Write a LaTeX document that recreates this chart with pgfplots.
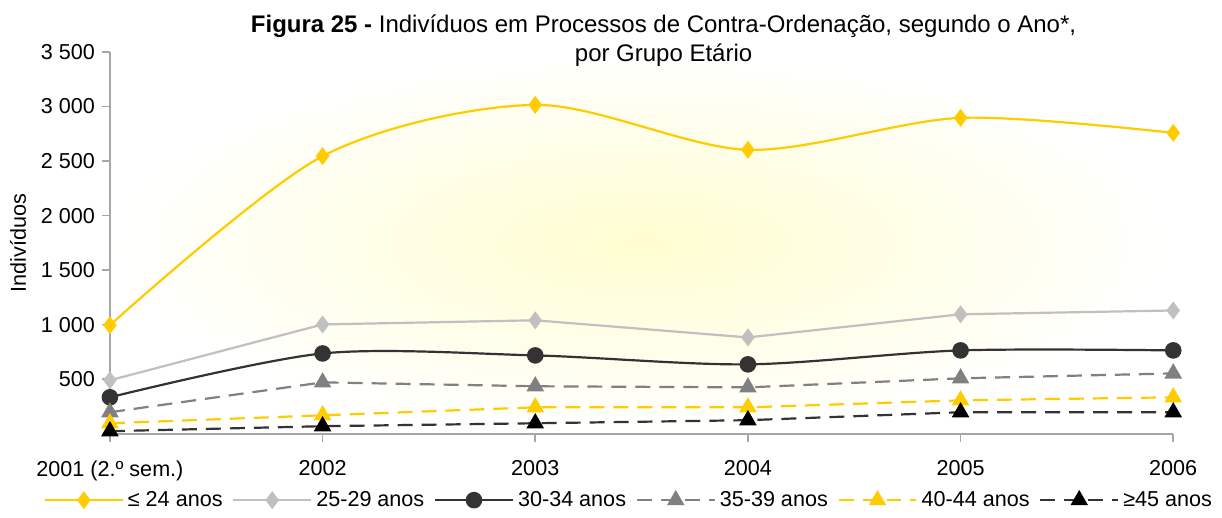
\documentclass[border=0pt]{standalone}
\usepackage{pgfplots}
\pgfplotsset{compat=1.18}
\usepackage{fontspec}
\setmainfont{Liberation Sans}
\definecolor{cyel}{HTML}{FFCC00}
\definecolor{clg}{HTML}{C0C0C0}
\definecolor{cdk}{HTML}{333333}
\definecolor{cmg}{HTML}{808080}
\definecolor{cax}{HTML}{A6A6A6}
\definecolor{bgc}{HTML}{FFFDCF}
\begin{document}
\begin{tikzpicture}
\path (-55pt,-39.5pt) rectangle (556pt,217pt);
\begin{axis}[
  scale only axis, width=532pt, height=191pt,
  xmin=0, xmax=5, ymin=0, ymax=3500,
  axis lines*=left,
  axis line style={cax, line width=0.8pt},
  axis background/.style={shade, shading=radial, inner color=bgc, middle color=bgc!60!white, outer color=white},
  xtick={0,1,2,3,4,5},
  xticklabels={2001 (2.º sem.),2002,2003,2004,2005,2006},
  ytick={500,1000,1500,2000,2500,3000,3500},
  tick style={cax, line width=0.8pt},
  tick align=outside,
  major tick length=4pt,
  xticklabel style={yshift=-6pt},
  font=\fontsize{10.8}{13}\selectfont,
  /pgf/number format/.cd, 1000 sep={\ }, assume math mode=true,
  /pgfplots/.cd,
  ylabel={Indivíduos},
  ylabel style={at={(axis description cs:-0.0865,0.5)}, anchor=center},
  legend columns=6,
  legend style={draw=none, fill=none, at={(0.489,-0.174)}, anchor=center,
    font=\fontsize{10.8}{13}\selectfont,
    /tikz/every even column/.append style={column sep=2.8pt}},
  legend image code/.code={\draw[#1] (0pt,0pt) -- (39pt,0pt); \draw[#1] plot coordinates {(19.5pt,0pt)};},
  every axis plot/.append style={line width=1.1pt},
  clip=false,
]
\addplot[cyel, smooth, tension=0.5, mark=diamond*, mark size=3.6pt, mark options={solid, fill=cyel}]
  coordinates {(0,995) (1,2545) (2,3015) (3,2603) (4,2896) (5,2758)};
\addlegendentry{≤ 24 anos}
\addplot[clg, mark=diamond*, mark size=3.6pt, mark options={solid, fill=clg}]
  coordinates {(0,490) (1,1002) (2,1040) (3,883) (4,1095) (5,1130)};
\addlegendentry{25-29 anos}
\addplot[cdk, smooth, tension=0.5, mark=*, mark size=3.6pt, mark options={solid, fill=cdk}]
  coordinates {(0,334) (1,736) (2,718) (3,636) (4,764) (5,764)};
\addlegendentry{30-34 anos}
\addplot[cmg, dash pattern=on 7.5pt off 4.5pt, mark=triangle*, mark size=4pt, mark options={solid, fill=cmg}]
  coordinates {(0,197) (1,471) (2,435) (3,425) (4,508) (5,553)};
\addlegendentry{35-39 anos}
\addplot[cyel, dash pattern=on 7.5pt off 4.5pt, mark=triangle*, mark size=4pt, mark options={solid, fill=cyel}]
  coordinates {(0,96) (1,169) (2,242) (3,242) (4,306) (5,334)};
\addlegendentry{40-44 anos}
\addplot[cdk, dash pattern=on 7.5pt off 4.5pt, mark=triangle*, mark size=4pt, mark options={solid, fill=black, draw=black}]
  coordinates {(0,23) (1,69) (2,96) (3,124) (4,197) (5,197)};
\addlegendentry{≥45 anos}
\end{axis}
\node[align=center, font=\fontsize{12}{14.5}\selectfont, anchor=north, inner sep=0pt] at (277pt,210pt)
  {\textbf{Figura 25 -} Indivíduos em Processos de Contra-Ordenação, segundo o Ano*,\\por Grupo Etário};
\end{tikzpicture}
\end{document}
